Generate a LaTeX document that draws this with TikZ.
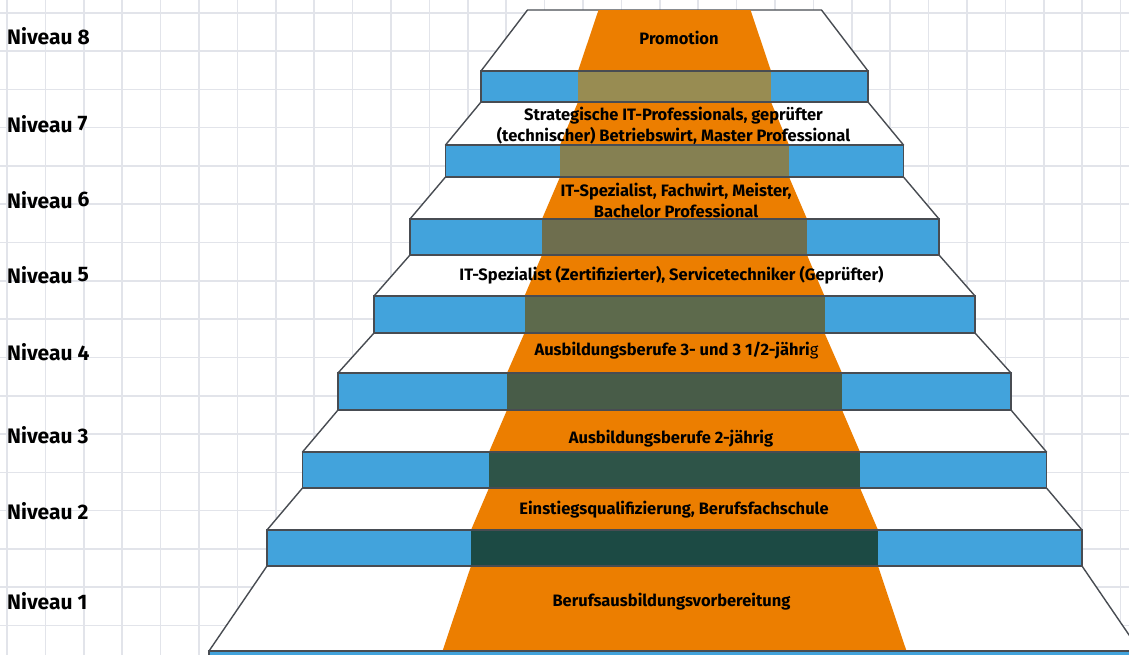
\documentclass[tikz,border=0pt]{standalone}
\usepackage{fontspec}
\setmainfont{Fira Sans}

\definecolor{papier}{RGB}{255,255,255}
\definecolor{kaestchen}{RGB}{226,228,234}
\definecolor{kante}{RGB}{72,76,82}
\definecolor{blau}{RGB}{66,163,220}
\definecolor{teppich}{RGB}{236,126,0}
\definecolor{dunkelacht}{RGB}{152,140,82}
\definecolor{dunkelsieben}{RGB}{133,128,82}
\definecolor{dunkelsechs}{RGB}{110,110,78}
\definecolor{dunkelfuenf}{RGB}{93,106,76}
\definecolor{dunkelvier}{RGB}{72,92,72}
\definecolor{dunkeldrei}{RGB}{46,84,72}
\definecolor{dunkelzwei}{RGB}{28,74,68}

\tikzset{
    auftritt/.style={fill=white, draw=kante, line width=1.4pt, line join=round},
    teppichflaeche/.style={fill=teppich},
    stufenkante/.style={fill=blau, draw=kante, line width=1.4pt},
    niveau/.style={anchor=base west, inner sep=0pt, font=\fontsize{21}{25}\selectfont\bfseries},
    stufentext/.style={inner sep=0pt, align=center, font=\fontsize{16.5}{21}\selectfont\bfseries}
}

\begin{document}
\begin{tikzpicture}[x=1pt,y=-1pt]
        \clip (0,0) rectangle (1129,654);
        \fill[papier] (0,0) rectangle (1129,654);
        \begin{scope}[shift={(7,12.7)}]
            \draw[kaestchen, line width=1.6pt] (-40,-40) grid[xstep=38.4pt, ystep=38.3pt] (1160,680);
        \end{scope}

        % Niveau 1
        \path[auftritt] (267,566) -- (1082,566) -- (1140,651) -- (209,651) -- cycle;
        \fill[teppichflaeche] (471,566) -- (878,566) -- (906.5,651) -- (442.5,651) -- cycle;
        \path[stufenkante] (209,651) rectangle (1140,690);
        % Niveau 2
        \path[auftritt] (302.5,488) -- (1046.5,488) -- (1082,530) -- (267,530) -- cycle;
        \fill[teppichflaeche] (489,488) -- (860,488) -- (878,530) -- (471,530) -- cycle;
        \path[stufenkante] (267,530) rectangle (1082,566);
        \fill[dunkelzwei] (471,530.7) rectangle (878,565.3);
        % Niveau 3
        \path[auftritt] (338,410) -- (1011,410) -- (1046.5,452) -- (302.5,452) -- cycle;
        \fill[teppichflaeche] (507,410) -- (842,410) -- (860,452) -- (489,452) -- cycle;
        \path[stufenkante] (302.5,452) rectangle (1046.5,488);
        \fill[dunkeldrei] (489,452.7) rectangle (860,487.3);
        % Niveau 4
        \path[auftritt] (374,333) -- (975,333) -- (1011,373) -- (338,373) -- cycle;
        \fill[teppichflaeche] (524.5,333) -- (824.5,333) -- (842,373) -- (507,373) -- cycle;
        \path[stufenkante] (338,373) rectangle (1011,410);
        \fill[dunkelvier] (507,373.7) rectangle (842,409.3);
        % Niveau 5
        \path[auftritt] (410,255) -- (939,255) -- (975,296) -- (374,296) -- cycle;
        \fill[teppichflaeche] (542,255) -- (807,255) -- (824.5,296) -- (524.5,296) -- cycle;
        \path[stufenkante] (374,296) rectangle (975,333);
        \fill[dunkelfuenf] (524.5,296.7) rectangle (824.5,332.3);
        % Niveau 6
        \path[auftritt] (445.5,177) -- (903.5,177) -- (939,219) -- (410,219) -- cycle;
        \fill[teppichflaeche] (560,177) -- (789,177) -- (807,219) -- (542,219) -- cycle;
        \path[stufenkante] (410,219) rectangle (939,255);
        \fill[dunkelsechs] (542,219.7) rectangle (807,254.3);
        % Niveau 7
        \path[auftritt] (481,102) -- (868,102) -- (903.5,145) -- (445.5,145) -- cycle;
        \fill[teppichflaeche] (578,102) -- (771,102) -- (789,145) -- (560,145) -- cycle;
        \path[stufenkante] (445.5,145) rectangle (903.5,177);
        \fill[dunkelsieben] (560,145.7) rectangle (789,176.3);
        % Niveau 8
        \path[auftritt] (527.5,10) -- (821.5,10) -- (868,71) -- (481,71) -- cycle;
        \fill[teppichflaeche] (598.5,10) -- (750.5,10) -- (771,71) -- (578,71) -- cycle;
        \path[stufenkante] (481,71) rectangle (868,102);
        \fill[dunkelacht] (578,71.7) rectangle (771,101.3);

        % Beschriftung links
        \node[niveau] (n8) at (7,44) {Niveau 8};
        \node[niveau] (n7) at (7,132.7) {Niveau \raisebox{2.5pt}{7}};
        \node[niveau] (n6) at (7,208) {Niveau \raisebox{1.5pt}{6}};
        \node[niveau] (n5) at (7,283) {Niveau \raisebox{1.5pt}{5}};
        \node[niveau] (n4) at (7,360) {Niveau 4};
        \node[niveau] (n3) at (7,443) {Niveau 3};
        \node[niveau] (n2) at (7,519) {Niveau 2};
        \node[niveau] (n1) at (7,609) {Niveau 1};

        % Beschriftung der Stufen
        \node[stufentext, anchor=base] (s8) at (679,44) {Promotion};
        \node[stufentext, anchor=center] (s7) at (673.5,126) {Strategische IT-Professionals, geprüfter\\(technischer) Betriebswirt, Master Professional};
        \node[stufentext, anchor=center] (s6) at (676,200) {IT-Spezialist, Fachwirt, Meister,\\Bachelor Professional};
        \node[stufentext, anchor=base] (s5) at (671.5,280) {IT-Spezialist (Zertifizierter), Servicetechniker (Geprüfter)};
        \node[stufentext, anchor=base] (s4) at (676.5,355) {Ausbildungsberufe 3- und 3 1/2-jähri{\mdseries g}};
        \node[stufentext, anchor=base] (s3) at (671,443) {Ausbildungsberufe 2-jährig};
        \node[stufentext, anchor=base] (s2) at (674,514.3) {Einstiegsqualifizierung, Berufsfachschule};
        \node[stufentext, anchor=base] (s1) at (671.5,606) {Berufsausbildungsvorbereitung};
    \end{tikzpicture}
\end{document}
